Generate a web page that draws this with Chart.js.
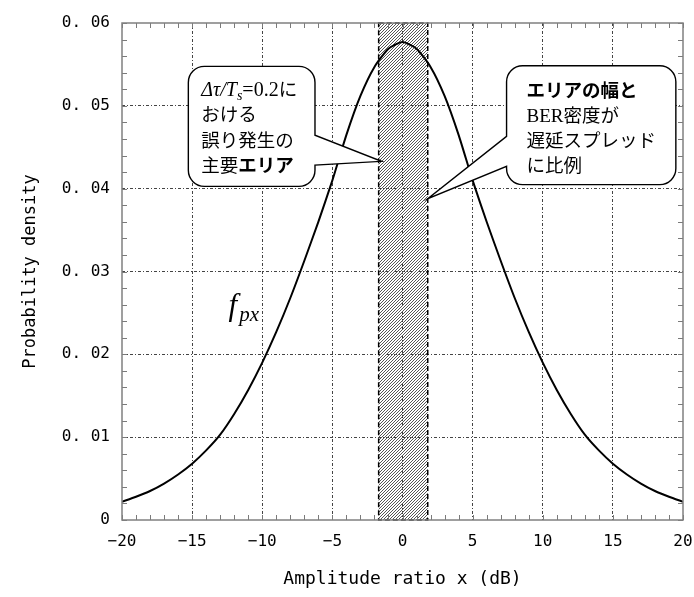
<!DOCTYPE html>
<html>
<head>
<meta charset="utf-8">
<script src="https://cdn.jsdelivr.net/npm/chart.js@4/dist/chart.umd.min.js"></script>
<style>
  html, body { margin: 0; padding: 0; background: #fff; }
  #wrap { width: 694px; height: 597px; }
</style>
</head>
<body>
<div id="wrap"><canvas id="c" width="694" height="597"></canvas></div>
<script>
// Amplitude ratio (dB) and the probability density f_px at each step
const amplitudeDb = [-20,-19,-18,-17,-16,-15,-14,-13,-12,-11,-10,-9,-8,-7,-6,-5,-4,-3,-2,-1,
                     0,1,2,3,4,5,6,7,8,9,10,11,12,13,14,15,16,17,18,19,20];
const density = [0.0022,0.0028,0.0035,0.0044,0.0055,0.0068,0.0084,0.0103,0.0128,0.0157,
                 0.0190,0.0227,0.0268,0.0313,0.0360,0.0410,0.0465,0.0512,0.0547,0.0569,
                 0.0577,
                 0.0569,0.0547,0.0512,0.0465,0.0410,0.0360,0.0313,0.0268,0.0227,0.0190,
                 0.0157,0.0128,0.0103,0.0084,0.0068,0.0055,0.0044,0.0035,0.0028,0.0022];

const xTickLabels = ['−20','−15','−10','−5','0','5','10','15','20'];
const yTickLabels = ['0','0. 01','0. 02','0. 03','0. 04','0. 05','0. 06'];

// Main error region (dB) for Δτ/Ts = 0.2
const errorBand = [-1.7, 1.8];

const xAxisTitle = 'Amplitude ratio x (dB)';
const yAxisTitle = 'Probability density';

const MONO = '"DejaVu Sans Mono", "Liberation Mono", monospace';
const SERIF = '"Liberation Serif", "DejaVu Serif", serif';
const GOTHIC = '"Noto Sans CJK JP", "Noto Sans", sans-serif';

// Diagonal hatch used for the error band: one dark pixel per row, 3 px period
function makeHatch() {
  const p = document.createElement('canvas');
  p.width = 3; p.height = 3;
  const g = p.getContext('2d');
  g.fillStyle = '#555';
  g.fillRect(2, 0, 1, 1);
  g.fillRect(1, 1, 1, 1);
  g.fillRect(0, 2, 1, 1);
  return p;
}

// Rounded box with a wedge pointing at (tipX, tipY); side = 'right' or 'left'
function calloutPath(ctx, x0, y0, x1, y1, r, side, w0, w1, tipX, tipY) {
  ctx.beginPath();
  ctx.moveTo(x0 + r, y0);
  ctx.lineTo(x1 - r, y0);
  ctx.arcTo(x1, y0, x1, y0 + r, r);
  if (side === 'right') {
    ctx.lineTo(x1, w0);
    ctx.lineTo(tipX, tipY);
    ctx.lineTo(x1, w1);
  }
  ctx.lineTo(x1, y1 - r);
  ctx.arcTo(x1, y1, x1 - r, y1, r);
  ctx.lineTo(x0 + r, y1);
  ctx.arcTo(x0, y1, x0, y1 - r, r);
  if (side === 'left') {
    ctx.lineTo(x0, w1);
    ctx.lineTo(tipX, tipY);
    ctx.lineTo(x0, w0);
  }
  ctx.lineTo(x0, y0 + r);
  ctx.arcTo(x0, y0, x0 + r, y0, r);
  ctx.closePath();
}

// Draws a line of mixed-font runs starting at x on baseline y
function drawRuns(ctx, x, y, runs) {
  ctx.textBaseline = 'alphabetic';
  ctx.textAlign = 'left';
  for (const run of runs) {
    ctx.font = run.font;
    ctx.fillText(run.text, x, y + (run.dy || 0));
    x += ctx.measureText(run.text).width + (run.gap || 0);
  }
}

const bandPlugin = {
  id: 'errorBand',
  beforeDatasetsDraw(chart) {
    const { ctx, scales: { x, y } } = chart;
    const l = x.getPixelForValue(errorBand[0]);
    const r = x.getPixelForValue(errorBand[1]);
    const t = y.getPixelForValue(0.06);
    const b = y.getPixelForValue(0);
    ctx.save();
    ctx.fillStyle = ctx.createPattern(makeHatch(), 'repeat');
    ctx.fillRect(l, t, r - l, b - t);
    ctx.strokeStyle = '#000';
    ctx.lineWidth = 1.5;
    ctx.setLineDash([5, 3]);
    ctx.strokeRect(l, t, r - l, b - t);
    ctx.restore();
  }
};

const framePlugin = {
  id: 'frame',
  afterDatasetsDraw(chart) {
    const { ctx, chartArea: a, scales: { x, y } } = chart;
    ctx.save();
    // minor and major tick marks on all four sides, pointing inward
    ctx.strokeStyle = '#7a7a7a';
    ctx.lineWidth = 1;
    ctx.beginPath();
    for (let v = -20; v <= 20; v += 1) {
      const px = Math.round(x.getPixelForValue(v)) + 0.5;
      ctx.moveTo(px, a.bottom); ctx.lineTo(px, a.bottom - 5);
      ctx.moveTo(px, a.top); ctx.lineTo(px, a.top + 5);
    }
    for (let k = 0; k <= 30; k++) {
      const py = Math.round(y.getPixelForValue(k * 0.002)) + 0.5;
      ctx.moveTo(a.left, py); ctx.lineTo(a.left + 5, py);
      ctx.moveTo(a.right, py); ctx.lineTo(a.right - 5, py);
    }
    ctx.stroke();
    // plot frame
    ctx.strokeStyle = '#808080';
    ctx.lineWidth = 1.5;
    ctx.strokeRect(a.left, a.top, a.right - a.left, a.bottom - a.top);
    ctx.restore();
  }
};

const notePlugin = {
  id: 'notes',
  afterDatasetsDraw(chart) {
    const { ctx, scales: { x, y } } = chart;
    const X = v => x.getPixelForValue(v);
    const Y = v => y.getPixelForValue(v);
    ctx.save();
    ctx.lineWidth = 1.4;
    ctx.strokeStyle = '#000';
    ctx.fillStyle = '#fff';
    ctx.setLineDash([]);

    // left note, pointing into the band
    const L = { x0: X(-15.27), x1: X(-6.24), y0: Y(0.05476), y1: Y(0.04028) };
    calloutPath(ctx, L.x0, L.y0, L.x1, L.y1, 16, 'right', Y(0.04646), Y(0.04284), X(-1.5), Y(0.0433));
    ctx.fill(); ctx.stroke();

    // right note, pointing at the band edge
    const R = { x0: X(7.42), x1: X(19.49), y0: Y(0.05484), y1: Y(0.04049) };
    calloutPath(ctx, R.x0, R.y0, R.x1, R.y1, 16, 'left', Y(0.04631), Y(0.04269), X(1.8), Y(0.0388));
    ctx.fill(); ctx.stroke();

    ctx.fillStyle = '#000';
    const g18 = `18.5px ${GOTHIC}`;
    const g18b = `bold 18.5px ${GOTHIC}`;
    const lx = L.x0 + 13;
    drawRuns(ctx, lx, L.y0 + 30, [
      { text: 'Δτ/T', font: `italic 20px ${SERIF}` },
      { text: 's', font: `italic 14px ${SERIF}`, dy: 4 },
      { text: '=0.2', font: `20px ${SERIF}` },
      { text: 'に', font: g18 }
    ]);
    drawRuns(ctx, lx, L.y0 + 55, [{ text: 'おける', font: g18 }]);
    drawRuns(ctx, lx, L.y0 + 81, [{ text: '誤り発生の', font: g18 }]);
    drawRuns(ctx, lx, L.y0 + 106, [
      { text: '主要', font: g18 },
      { text: 'エリア', font: g18b }
    ]);

    const rx = R.x0 + 20;
    drawRuns(ctx, rx, R.y0 + 31, [{ text: 'エリアの幅と', font: g18b }]);
    drawRuns(ctx, rx, R.y0 + 56, [
      { text: 'BER', font: `19px ${SERIF}` },
      { text: '密度が', font: g18 }
    ]);
    drawRuns(ctx, rx, R.y0 + 81, [{ text: '遅延スプレッド', font: g18 }]);
    drawRuns(ctx, rx, R.y0 + 106, [{ text: 'に比例', font: g18 }]);

    // curve label f_px
    drawRuns(ctx, X(-12.4), Y(0.0247), [
      { text: 'f', font: `italic 31px ${SERIF}`, gap: 2 },
      { text: 'px', font: `italic 21px ${SERIF}`, dy: 6 }
    ]);
    ctx.restore();
  }
};

const edgeHidden = (ctx, lo, hi) => {
  const v = ctx.tick ? ctx.tick.value : null;
  return (v === null || Math.abs(v - lo) < 1e-9 || Math.abs(v - hi) < 1e-9) ? 'rgba(0,0,0,0)' : '#444';
};

new Chart(document.getElementById('c'), {
  type: 'line',
  data: {
    labels: amplitudeDb,
    datasets: [{
      data: amplitudeDb.map((v, i) => ({ x: v, y: density[i] })),
      borderColor: '#000',
      borderWidth: 2,
      pointRadius: 0,
      tension: 0.2,
      fill: false
    }]
  },
  options: {
    responsive: false,
    animation: false,
    devicePixelRatio: 1,
    layout: { padding: { left: 0, right: 0, top: 23, bottom: 0 } },
    plugins: { legend: { display: false }, tooltip: { enabled: false } },
    scales: {
      x: {
        type: 'linear',
        min: -20, max: 20,
        afterFit(s) { s.height = 77; s.paddingLeft = 0; s.paddingRight = 11; },
        ticks: {
          stepSize: 5,
          padding: 12,
          color: '#000',
          font: { family: MONO, size: 16 },
          maxRotation: 0,
          callback: (v, i) => xTickLabels[i]
        },
        grid: {
          drawTicks: false,
          lineWidth: 1,
          color: c => edgeHidden(c, -20, 20)
        },
        border: { display: false, dash: [3, 2, 1, 2] },
        title: {
          display: true,
          text: xAxisTitle,
          color: '#000',
          font: { family: MONO, size: 18 },
          padding: { top: 0, bottom: 7 }
        }
      },
      y: {
        type: 'linear',
        min: 0, max: 0.06,
        afterFit(s) { s.width = 122; },
        ticks: {
          stepSize: 0.01,
          padding: 12,
          color: '#000',
          font: { family: MONO, size: 16 },
          callback: (v, i) => yTickLabels[i]
        },
        grid: {
          drawTicks: false,
          lineWidth: 1,
          color: c => edgeHidden(c, 0, 0.06)
        },
        border: { display: false, dash: [3, 2, 1, 2] },
        title: {
          display: true,
          text: yAxisTitle,
          color: '#000',
          font: { family: MONO, size: 17 },
          padding: { top: 20, bottom: 0 }
        }
      }
    }
  },
  plugins: [bandPlugin, framePlugin, notePlugin]
});
</script>
</body>
</html>
